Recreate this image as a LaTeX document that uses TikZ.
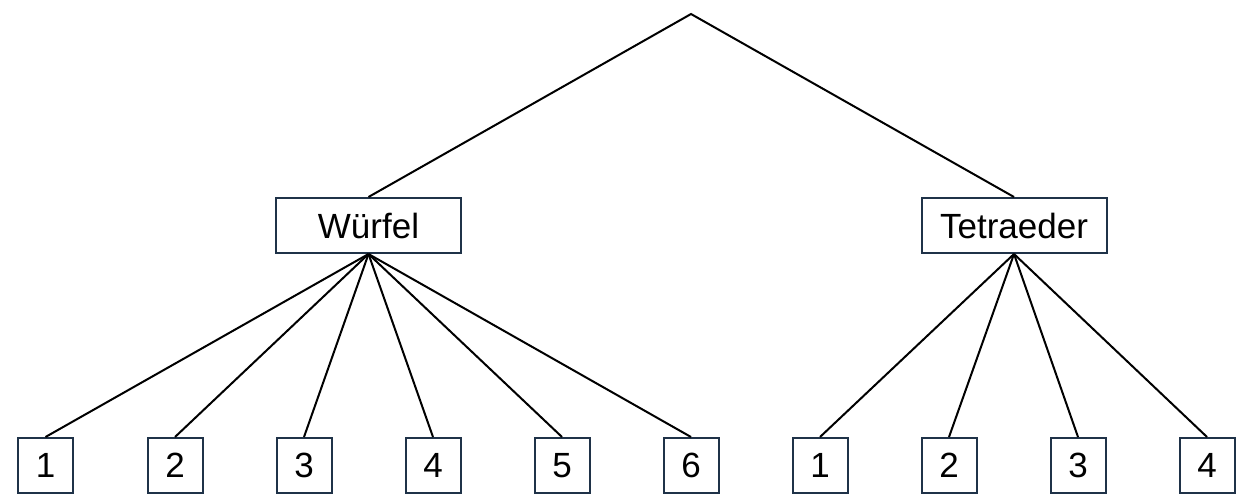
\documentclass[tikz,border=0pt]{standalone}
\usepackage{fontspec}
\setmainfont{Liberation Sans}
\definecolor{boxline}{HTML}{1F3248}
\begin{document}
\begin{tikzpicture}[x=1pt,y=-1pt,
  box/.style={draw=boxline,line width=2pt,fill=white,inner sep=0pt,font=\fontsize{35}{40}\selectfont},
  leaf/.style={box,minimum width=55pt,minimum height=55pt},
  mid/.style={box,minimum width=185pt,minimum height=55pt},
  edge/.style={line width=2pt,black}]
\useasboundingbox (0,0) rectangle (1246,499);
\coordinate (root) at (691,14);
\node[mid] (w) at (368.5,225.5) {Würfel};
\node[mid] (t) at (1014,225.5) {Tetraeder};
\foreach \i/\x/\l in {1/45.5/1,2/175/2,3/304/3,4/433/4,5/562/5,6/691/6}
  \node[leaf] (w\i) at (\x,465.5) {\l};
\foreach \i/\x/\l in {1/820/1,2/949/2,3/1078/3,4/1207/4}
  \node[leaf] (t\i) at (\x,465.5) {\l};
\draw[edge] (w.north) -- (root) -- (t.north);
\foreach \i in {1,...,6} \draw[edge] (w.south) -- (w\i.north);
\foreach \i in {1,...,4} \draw[edge] (t.south) -- (t\i.north);
\end{tikzpicture}
\end{document}
